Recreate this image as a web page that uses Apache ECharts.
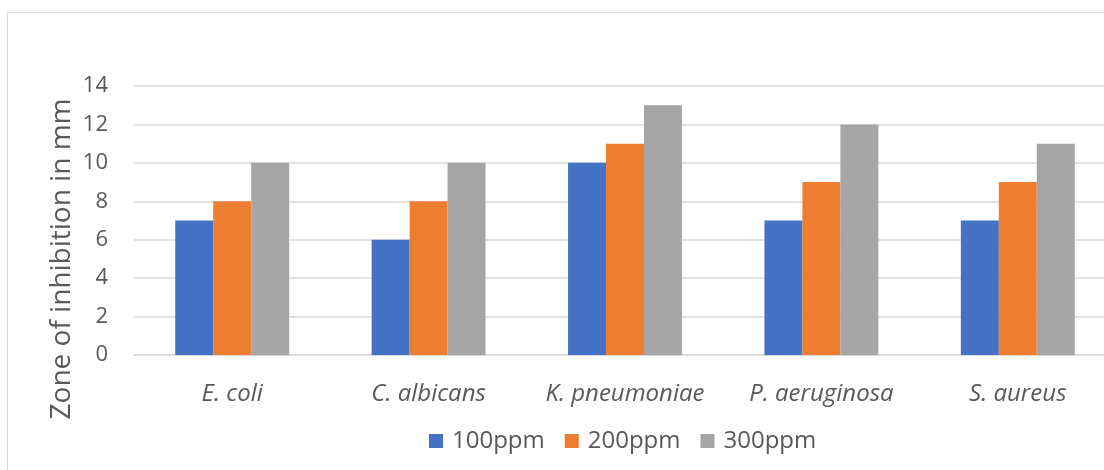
<!DOCTYPE html>
<html><head><meta charset="utf-8">
<script src="https://cdn.jsdelivr.net/npm/echarts@6/dist/echarts.min.js"></script>
<style>html,body{margin:0;padding:0;background:#fff}#c{width:1104px;height:470px}</style>
</head><body><div id="c"></div>
<script>
const categories = ['E. coli', 'C. albicans', 'K. pneumoniae', 'P. aeruginosa', 'S. aureus'];
const seriesNames = ['100ppm', '200ppm', '300ppm'];
const v100 = [7, 6, 10, 7, 7];
const v200 = [8, 8, 11, 9, 9];
const v300 = [10, 10, 13, 12, 11];
const colors = ['#4472C4', '#ED7D31', '#A5A5A5'];
const yTitle = 'Zone of inhibition in mm';

const chart = echarts.init(document.getElementById('c'));
const font = "'Open Sans', 'Noto Sans', sans-serif";
chart.setOption({
  animation: false,
  textStyle: { fontFamily: font },
  graphic: [
    { type: 'rect', shape: { x: 7.5, y: 12.5, width: 1200, height: 600 }, style: { fill: 'none', stroke: '#d9d9d9', lineWidth: 1 }, silent: true },
    { type: 'text', x: 62, y: 259, rotation: Math.PI / 2, style: { text: yTitle, font: "28px " + font, fill: '#595959', align: 'center', verticalAlign: 'middle' } }
  ],
  legend: {
    data: seriesNames, top: 424, left: 424, itemWidth: 14, itemHeight: 14, itemGap: 20,
    icon: 'rect', textStyle: { fontSize: 24, color: '#595959', fontFamily: font, padding: [0, 0, 0, 4] }
  },
  grid: { left: 134, width: 982, top: 86, bottom: 115, containLabel: false, outerBoundsMode: 'none' },
  xAxis: {
    type: 'category', data: categories,
    axisLine: { lineStyle: { color: '#d9d9d9', width: 1.5 } },
    axisTick: { show: false },
    axisLabel: { interval: 0, hideOverlap: false, fontSize: 24, fontStyle: 'italic', color: '#595959', margin: 27, fontFamily: font }
  },
  yAxis: {
    type: 'value', min: 0, max: 14, interval: 2,
    axisLine: { show: false }, axisTick: { show: false },
    splitLine: { lineStyle: { color: '#d9d9d9', width: 1.5 } },
    axisLabel: { fontSize: 22, color: '#595959', margin: 26, fontFamily: font }
  },
  series: [v100, v200, v300].map((d, i) => ({
    name: seriesNames[i], type: 'bar', data: d, barGap: '0%', barCategoryGap: '42%',
    itemStyle: { color: colors[i] }
  }))
});
</script></body></html>
